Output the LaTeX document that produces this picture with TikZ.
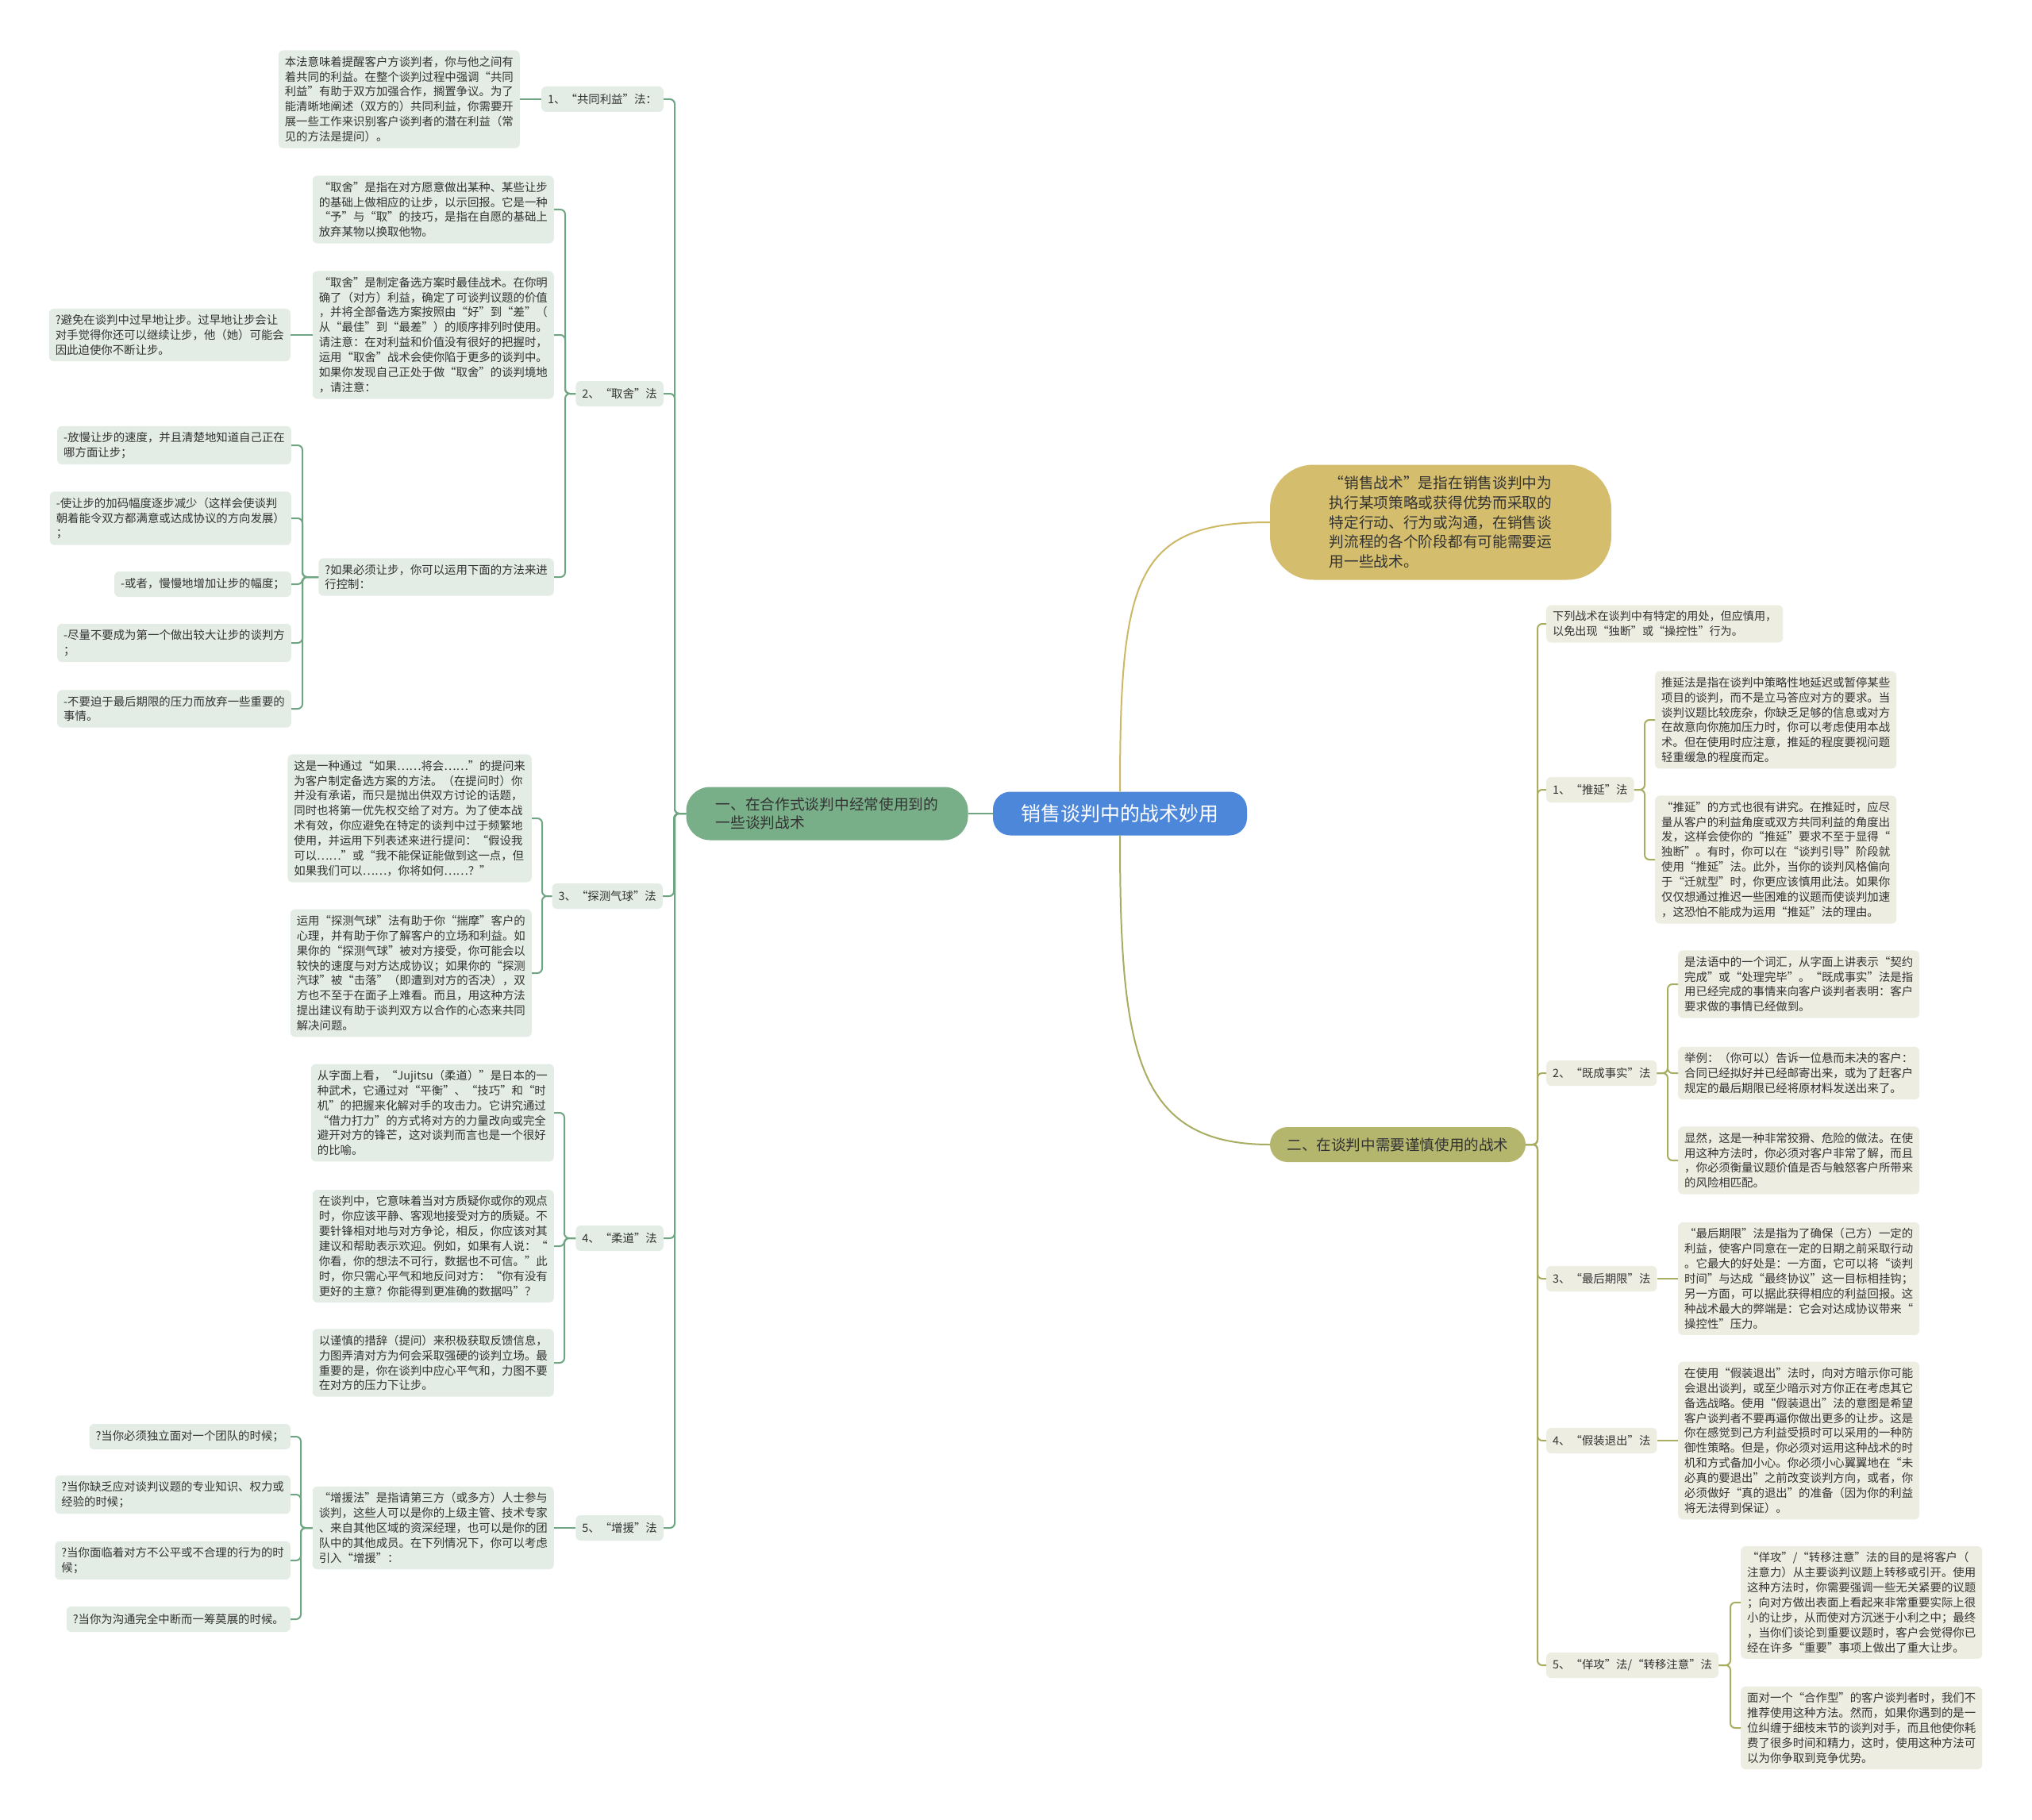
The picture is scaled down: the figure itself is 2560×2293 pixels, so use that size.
\documentclass[tikz,border=0pt]{standalone}
\usepackage{fontspec}
\setmainfont{Noto Sans CJK SC}
\usetikzlibrary{calc}
\definecolor{lfill}{HTML}{E3EDE6}
\definecolor{rfill}{HTML}{EDEDE1}
\definecolor{lline}{HTML}{6FA583}
\definecolor{rline}{HTML}{A8AD62}
\definecolor{yline}{HTML}{CDB965}
\definecolor{cblue}{HTML}{4D87DA}
\definecolor{lmainc}{HTML}{78AF88}
\definecolor{rmainc}{HTML}{B4B66E}
\definecolor{yell}{HTML}{D4BD6C}
\definecolor{txt}{HTML}{333333}
\tikzset{
  leaf/.style={rounded corners=6pt, inner xsep=8pt, inner ysep=7.5pt, align=left, text=txt,
    font=\fontsize{14.4pt}{18.9pt}\selectfont},
  lleaf/.style={leaf, fill=lfill},
  rleaf/.style={leaf, fill=rfill},
  llabel/.style={lleaf, minimum height=32pt},
  rlabel/.style={rleaf, minimum height=32pt},
  lconn/.style={draw=lline, line width=2pt, rounded corners=6pt},
  rconn/.style={draw=rline, line width=2pt, rounded corners=6pt},
  rootnode/.style={fill=cblue, text=white, rounded corners=22pt, minimum width=320pt, minimum height=55pt,
    font=\fontsize{24.9pt}{30pt}\selectfont},
  lmainnode/.style={fill=lmainc, text=txt, rounded corners=30pt, minimum width=355pt, minimum height=67pt,
    align=left, font=\fontsize{18.7pt}{23.3pt}\selectfont},
  rmainnode/.style={fill=rmainc, text=txt, rounded corners=22pt, minimum width=322pt, minimum height=44pt,
    font=\fontsize{18.6pt}{23pt}\selectfont},
  ynode/.style={fill=yell, text=txt, rounded corners=55pt, minimum width=430pt, minimum height=145pt,
    align=left, font=\fontsize{18.7pt}{24.8pt}\selectfont},
}
\begin{document}
\begin{tikzpicture}[x=1pt,y=-1pt]
\useasboundingbox (0,0) rectangle (2560,2293);
\fill[white] (0,0) rectangle (2560,2293);

% ---------- main nodes ----------
\node[rootnode] (root) at (1411,1025) {销售谈判中的战术妙用};
\node[lmainnode] (lm) at (1042,1025) {一、在合作式谈判中经常使用到的\\一些谈判战术};
\node[ynode] (ye) at (1815,658) {“销售战术”是指在销售谈判中为\\执行某项策略或获得优势而采取的\\特定行动、行为或沟通，在销售谈\\判流程的各个阶段都有可能需要运\\用一些战术。};
\node[rmainnode] (rm) at (1761,1442) {二、在谈判中需要谨慎使用的战术};

\draw[lconn] (root.west) -- (lm.east);
\draw[draw=yline, line width=2pt] (root.north) .. controls +(0,-270) and +(-170,0) .. (ye.west);
\draw[draw=rline, line width=2pt] (root.south) .. controls +(0,270) and +(-170,0) .. (rm.west);

% ---------- left side ----------
\node[llabel, anchor=east] (L1) at (836,125) {1、“共同利益”法：};
\node[lleaf, anchor=east] (L1a) at (655,125) {本法意味着提醒客户方谈判者，你与他之间有\\着共同的利益。在整个谈判过程中强调“共同\\利益”有助于双方加强合作，搁置争议。为了\\能清晰地阐述（双方的）共同利益，你需要开\\展一些工作来识别客户谈判者的潜在利益（常\\见的方法是提问）。};

\node[llabel, anchor=east] (L2) at (836,496) {2、“取舍”法};
\node[lleaf, anchor=east] (L2a) at (698,264) {“取舍”是指在对方愿意做出某种、某些让步\\的基础上做相应的让步，以示回报。它是一种\\“予”与“取”的技巧，是指在自愿的基础上\\放弃某物以换取他物。};
\node[lleaf, anchor=east] (L2b) at (698,422) {“取舍”是制定备选方案时最佳战术。在你明\\确了（对方）利益，确定了可谈判议题的价值\\，并将全部备选方案按照由“好”到“差”（\\从“最佳”到“最差”）的顺序排列时使用。\\请注意：在对利益和价值没有很好的把握时，\\运用“取舍”战术会使你陷于更多的谈判中。\\如果你发现自己正处于做“取舍”的谈判境地\\，请注意：};
\node[lleaf, anchor=east] (L2b1) at (366,422) {?避免在谈判中过早地让步。过早地让步会让\\对手觉得你还可以继续让步，他（她）可能会\\因此迫使你不断让步。};
\node[lleaf, anchor=east] (L2c) at (698,727) {?如果必须让步，你可以运用下面的方法来进\\行控制：};
\node[lleaf, anchor=east] (L2c1) at (367,561) {-放慢让步的速度，并且清楚地知道自己正在\\哪方面让步；};
\node[lleaf, anchor=east] (L2c2) at (367,653) {-使让步的加码幅度逐步减少（这样会使谈判\\朝着能令双方都满意或达成协议的方向发展）\\；};
\node[llabel, anchor=east] (L2c3) at (367,736) {-或者，慢慢地增加让步的幅度；};
\node[lleaf, anchor=east] (L2c4) at (367,810) {-尽量不要成为第一个做出较大让步的谈判方\\；};
\node[lleaf, anchor=east] (L2c5) at (367,893) {-不要迫于最后期限的压力而放弃一些重要的\\事情。};

\node[llabel, anchor=east] (L3) at (835,1129) {3、“探测气球”法};
\node[lleaf, anchor=east] (L3a) at (670,1031) {这是一种通过“如果……将会……”的提问来\\为客户制定备选方案的方法。（在提问时）你\\并没有承诺，而只是抛出供双方讨论的话题，\\同时也将第一优先权交给了对方。为了使本战\\术有效，你应避免在特定的谈判中过于频繁地\\使用，并运用下列表述来进行提问：“假设我\\可以……”或“我不能保证能做到这一点，但\\如果我们可以……，你将如何……？”};
\node[lleaf, anchor=east] (L3b) at (670,1226) {运用“探测气球”法有助于你“揣摩”客户的\\心理，并有助于你了解客户的立场和利益。如\\果你的“探测气球”被对方接受，你可能会以\\较快的速度与对方达成协议；如果你的“探测\\汽球”被“击落”（即遭到对方的否决），双\\方也不至于在面子上难看。而且，用这种方法\\提出建议有助于谈判双方以合作的心态来共同\\解决问题。};

\node[llabel, anchor=east] (L4) at (836,1560) {4、“柔道”法};
\node[lleaf, anchor=east] (L4a) at (698,1402) {从字面上看，“Jujitsu（柔道）”是日本的一\\种武术，它通过对“平衡”、“技巧”和“时\\机”的把握来化解对手的攻击力。它讲究通过\\“借力打力”的方式将对方的力量改向或完全\\避开对方的锋芒，这对谈判而言也是一个很好\\的比喻。};
\node[lleaf, anchor=east] (L4b) at (698,1570) {在谈判中，它意味着当对方质疑你或你的观点\\时，你应该平静、客观地接受对方的质疑。不\\要针锋相对地与对方争论，相反，你应该对其\\建议和帮助表示欢迎。例如，如果有人说：“\\你看，你的想法不可行，数据也不可信。”此\\时，你只需心平气和地反问对方：“你有没有\\更好的主意？你能得到更准确的数据吗”？};
\node[lleaf, anchor=east] (L4c) at (698,1717) {以谨慎的措辞（提问）来积极获取反馈信息，\\力图弄清对方为何会采取强硬的谈判立场。最\\重要的是，你在谈判中应心平气和，力图不要\\在对方的压力下让步。};

\node[llabel, anchor=east] (L5) at (836,1925) {5、“增援”法};
\node[lleaf, anchor=east] (L5a) at (698,1925) {“增援法”是指请第三方（或多方）人士参与\\谈判，这些人可以是你的上级主管、技术专家\\、来自其他区域的资深经理，也可以是你的团\\队中的其他成员。在下列情况下，你可以考虑\\引入“增援”：};
\node[llabel, anchor=east] (L5a1) at (366,1810) {?当你必须独立面对一个团队的时候；};
\node[lleaf, anchor=east] (L5a2) at (366,1883) {?当你缺乏应对谈判议题的专业知识、权力或\\经验的时候；};
\node[lleaf, anchor=east] (L5a3) at (366,1966) {?当你面临着对方不公平或不合理的行为的时\\候；};
\node[llabel, anchor=east] (L5a4) at (366,2040) {?当你为沟通完全中断而一筹莫展的时候。};

% left connectors
\foreach \c in {L1,L2,L3,L4,L5}
  \draw[lconn] (lm.west) -| ([xshift=14pt]\c.east) -- (\c.east);
\draw[lconn] (L1.west) -- (L1a.east);
\foreach \c in {L2a,L2b,L2c}
  \draw[lconn] (L2.west) -| ([xshift=14pt]\c.east) -- (\c.east);
\draw[lconn] (L2b.west) -- (L2b1.east);
\foreach \c in {L2c1,L2c2,L2c3,L2c4,L2c5}
  \draw[lconn] (L2c.west) -| ([xshift=14pt]\c.east) -- (\c.east);
\foreach \c in {L3a,L3b}
  \draw[lconn] (L3.west) -| ([xshift=13pt]\c.east) -- (\c.east);
\foreach \c in {L4a,L4b,L4c}
  \draw[lconn] (L4.west) -| ([xshift=13pt]\c.east) -- (\c.east);
\draw[lconn] (L5.west) -- (L5a.east);
\foreach \c in {L5a1,L5a2,L5a3,L5a4}
  \draw[lconn] (L5a.west) -| ([xshift=13pt]\c.east) -- (\c.east);

% ---------- right side ----------
\node[rleaf, anchor=west, font=\fontsize{14.1pt}{18.9pt}\selectfont] (R0) at (1948,786) {下列战术在谈判中有特定的用处，但应慎用，\\以免出现“独断”或“操控性”行为。};

\node[rlabel, anchor=west] (R1) at (1948,995) {1、“推延”法};
\node[rleaf, anchor=west] (R1a) at (2085,907) {推延法是指在谈判中策略性地延迟或暂停某些\\项目的谈判，而不是立马答应对方的要求。当\\谈判议题比较庞杂，你缺乏足够的信息或对方\\在故意向你施加压力时，你可以考虑使用本战\\术。但在使用时应注意，推延的程度要视问题\\轻重缓急的程度而定。};
\node[rleaf, anchor=west] (R1b) at (2085,1083) {“推延”的方式也很有讲究。在推延时，应尽\\量从客户的利益角度或双方共同利益的角度出\\发，这样会使你的“推延”要求不至于显得“\\独断”。有时，你可以在“谈判引导”阶段就\\使用“推延”法。此外，当你的谈判风格偏向\\于“迁就型”时，你更应该慎用此法。如果你\\仅仅想通过推迟一些困难的议题而使谈判加速\\，这恐怕不能成为运用“推延”法的理由。};

\node[rlabel, anchor=west] (R2) at (1948,1352) {2、“既成事实”法};
\node[rleaf, anchor=west] (R2a) at (2114,1240) {是法语中的一个词汇，从字面上讲表示“契约\\完成”或“处理完毕”。“既成事实”法是指\\用已经完成的事情来向客户谈判者表明：客户\\要求做的事情已经做到。};
\node[rleaf, anchor=west] (R2b) at (2114,1352) {举例：（你可以）告诉一位悬而未决的客户：\\合同已经拟好并已经邮寄出来，或为了赶客户\\规定的最后期限已经将原材料发送出来了。};
\node[rleaf, anchor=west] (R2c) at (2114,1462) {显然，这是一种非常狡猾、危险的做法。在使\\用这种方法时，你必须对客户非常了解，而且\\，你必须衡量议题价值是否与触怒客户所带来\\的风险相匹配。};

\node[rlabel, anchor=west] (R3) at (1948,1611) {3、“最后期限”法};
\node[rleaf, anchor=west] (R3a) at (2114,1611) {“最后期限”法是指为了确保（己方）一定的\\利益，使客户同意在一定的日期之前采取行动\\。它最大的好处是：一方面，它可以将“谈判\\时间”与达成“最终协议”这一目标相挂钩；\\另一方面，可以据此获得相应的利益回报。这\\种战术最大的弊端是：它会对达成协议带来“\\操控性”压力。};

\node[rlabel, anchor=west] (R4) at (1948,1815) {4、“假装退出”法};
\node[rleaf, anchor=west] (R4a) at (2114,1815) {在使用“假装退出”法时，向对方暗示你可能\\会退出谈判，或至少暗示对方你正在考虑其它\\备选战略。使用“假装退出”法的意图是希望\\客户谈判者不要再逼你做出更多的让步。这是\\你在感觉到己方利益受损时可以采用的一种防\\御性策略。但是，你必须对运用这种战术的时\\机和方式备加小心。你必须小心翼翼地在“未\\必真的要退出”之前改变谈判方向，或者，你\\必须做好“真的退出”的准备（因为你的利益\\将无法得到保证）。};

\node[rlabel, anchor=west] (R5) at (1948,2098) {5、“佯攻”法/“转移注意”法};
\node[rleaf, anchor=west] (R5a) at (2193,2019) {“佯攻”/“转移注意”法的目的是将客户（\\注意力）从主要谈判议题上转移或引开。使用\\这种方法时，你需要强调一些无关紧要的议题\\；向对方做出表面上看起来非常重要实际上很\\小的让步，从而使对方沉迷于小利之中；最终\\，当你们谈论到重要议题时，客户会觉得你已\\经在许多“重要”事项上做出了重大让步。};
\node[rleaf, anchor=west] (R5b) at (2193,2177) {面对一个“合作型”的客户谈判者时，我们不\\推荐使用这种方法。然而，如果你遇到的是一\\位纠缠于细枝末节的谈判对手，而且他使你耗\\费了很多时间和精力，这时，使用这种方法可\\以为你争取到竞争优势。};

% right connectors
\foreach \c in {R0,R1,R2,R3,R4,R5}
  \draw[rconn] (rm.east) -| ([xshift=-11pt]\c.west) -- (\c.west);
\foreach \c in {R1a,R1b}
  \draw[rconn] (R1.east) -| ([xshift=-13pt]\c.west) -- (\c.west);
\foreach \c in {R2a,R2b,R2c}
  \draw[rconn] (R2.east) -| ([xshift=-13pt]\c.west) -- (\c.west);
\draw[rconn] (R3.east) -- (R3a.west);
\draw[rconn] (R4.east) -- (R4a.west);
\foreach \c in {R5a,R5b}
  \draw[rconn] (R5.east) -| ([xshift=-13pt]\c.west) -- (\c.west);
\end{tikzpicture}
\end{document}
